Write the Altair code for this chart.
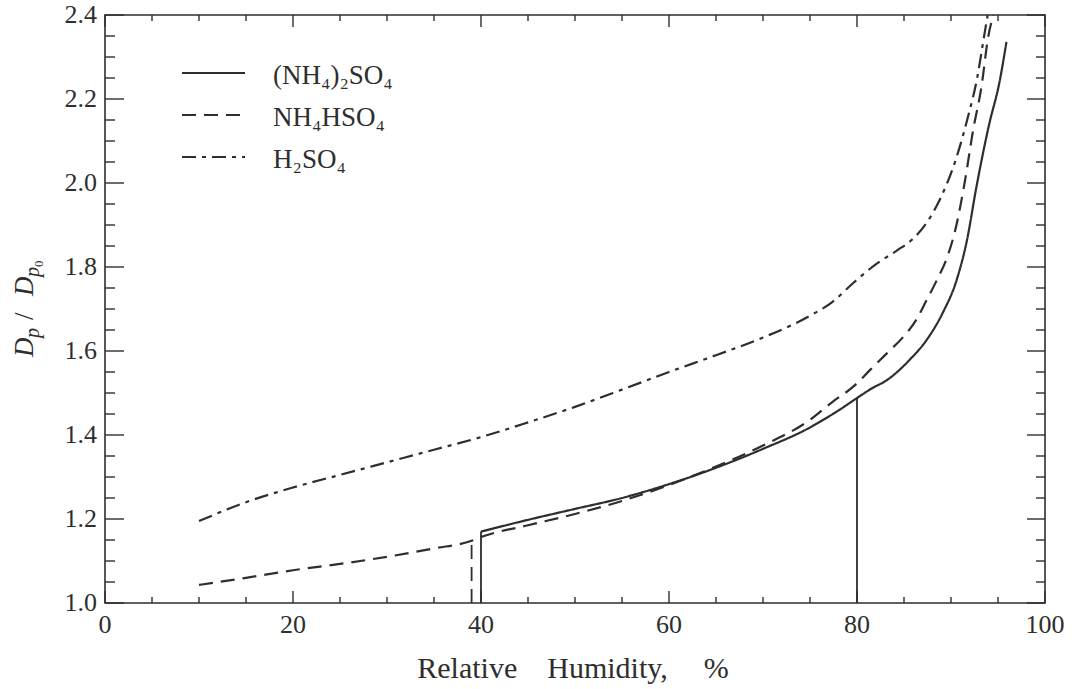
import altair as alt
import pandas as pd

# ---------------- data ----------------
AS_NAME = "(NH₄)₂SO₄"
AB_NAME = "NH₄HSO₄"
SA_NAME = "H₂SO₄"

AS_X = [40, 45, 50, 55, 60, 65, 70, 75, 76.1, 78, 80, 81.5, 83.2, 85.6, 87.4, 89.1, 90.6, 91.7, 92.7, 94.0, 95.2, 95.9]
AS_Y = [1.17, 1.198, 1.224, 1.25, 1.283, 1.322, 1.367, 1.418, 1.432, 1.458, 1.488, 1.51, 1.531, 1.579, 1.626, 1.69, 1.769, 1.864, 1.99, 2.134, 2.245, 2.336]

AB_X = [10, 15, 20, 25, 30, 35, 39, 40, 45, 50, 55, 60, 65, 70, 75, 77.4, 79.6, 81.4, 83.2, 84.9, 86.3, 87.4, 88.5, 89.6, 90.4, 91.5, 92.3, 93.3, 93.9, 94.5]
AB_Y = [1.043, 1.06, 1.078, 1.093, 1.11, 1.13, 1.148, 1.157, 1.185, 1.212, 1.243, 1.281, 1.325, 1.375, 1.436, 1.479, 1.515, 1.555, 1.595, 1.633, 1.674, 1.721, 1.769, 1.824, 1.883, 2.007, 2.119, 2.238, 2.34, 2.40]

SA_X = [10, 15, 20, 25, 30, 35, 40, 45, 50, 55, 60, 65, 70, 75, 77.4, 79.6, 82.1, 84.3, 85.9, 87.4, 88.8, 90.6, 91.8, 92.8, 93.4, 93.9]
SA_Y = [1.195, 1.24, 1.275, 1.305, 1.335, 1.365, 1.395, 1.43, 1.467, 1.508, 1.55, 1.59, 1.632, 1.684, 1.717, 1.762, 1.808, 1.84, 1.866, 1.905, 1.96, 2.062, 2.157, 2.252, 2.333, 2.40]

# vertical deliquescence / efflorescence drops
DROP_SERIES = [AS_NAME, AS_NAME, AB_NAME]
DROP_X = [40, 80, 39]
DROP_TOP = [1.17, 1.488, 1.148]
DROP_BOTTOM = [1.0, 1.0, 1.0]

X_MAJOR = [0, 20, 40, 60, 80, 100]
X_MINOR = [v for v in range(0, 101, 5) if v % 20 != 0]
Y_MAJOR = [1.0, 1.2, 1.4, 1.6, 1.8, 2.0, 2.2, 2.4]
Y_MINOR = [round(1.0 + 0.05 * i, 2) for i in range(29) if i % 4 != 0]

SERIES = [AS_NAME, AB_NAME, SA_NAME]
X_TITLE = "Relative\u2003Humidity,\u2003\u2009%"

# ---------------- styling ----------------
W, H = 940, 588
INK = "#2e2e2e"
FONT = "Liberation Serif"
DASHES = [[1, 0], [14, 8], [14, 6, 4, 6]]

xs = alt.Scale(domain=[0, 100], nice=False, zero=False)
ys = alt.Scale(domain=[1.0, 2.4], nice=False, zero=False)
dash_scale = alt.Scale(domain=SERIES, range=DASHES)

rows = []
for name, xv, yv in [(AS_NAME, AS_X, AS_Y), (AB_NAME, AB_X, AB_Y), (SA_NAME, SA_X, SA_Y)]:
    for i, (a, b) in enumerate(zip(xv, yv)):
        rows.append({"series": name, "rh": a, "ratio": b, "i": i})
curves_df = pd.DataFrame(rows)

drops_df = pd.DataFrame({"series": DROP_SERIES, "rh": DROP_X, "top": DROP_TOP, "bottom": DROP_BOTTOM})

curves = alt.Chart(curves_df).mark_line(color=INK, strokeWidth=2.2, interpolate="monotone").encode(
    x=alt.X("rh:Q", scale=xs, axis=None),
    y=alt.Y("ratio:Q", scale=ys, axis=None),
    strokeDash=alt.StrokeDash("series:N", scale=dash_scale, legend=None),
    detail="series:N",
    order="i:Q",
)

drops = alt.Chart(drops_df).mark_rule(color=INK, strokeWidth=1.8).encode(
    x=alt.X("rh:Q", scale=xs, axis=None),
    y=alt.Y("bottom:Q", scale=ys, axis=None),
    y2="top:Q",
    strokeDash=alt.StrokeDash("series:N", scale=dash_scale, legend=None),
)


def x_ticks(vals, length, top):
    df = pd.DataFrame({"v": vals})
    if top:
        yy, yy2 = alt.value(0), alt.value(length)
    else:
        yy, yy2 = alt.value(H), alt.value(H - length)
    return alt.Chart(df).mark_rule(color=INK, strokeWidth=1.4).encode(
        x=alt.X("v:Q", scale=xs, axis=None), y=yy, y2=yy2)


def y_ticks(vals, length, right):
    df = pd.DataFrame({"v": vals})
    if right:
        xx, xx2 = alt.value(W), alt.value(W - length)
    else:
        xx, xx2 = alt.value(0), alt.value(length)
    return alt.Chart(df).mark_rule(color=INK, strokeWidth=1.4).encode(
        y=alt.Y("v:Q", scale=ys, axis=None), x=xx, x2=xx2)


ticks = [
    x_ticks(X_MAJOR, 12, False), x_ticks(X_MINOR, 6, False),
    x_ticks(X_MAJOR, 12, True), x_ticks(X_MINOR, 6, True),
    y_ticks(Y_MAJOR, 19, False), y_ticks(Y_MINOR, 10, False),
    y_ticks(Y_MAJOR, 18, True), y_ticks(Y_MINOR, 9, True),
]

# tick labels, placed through the scales
x_labels = alt.Chart(pd.DataFrame({"v": X_MAJOR})).transform_calculate(
    t="format(datum.v, 'd')"
).mark_text(font=FONT, fontSize=26, color=INK, align="center", baseline="top").encode(
    x=alt.X("v:Q", scale=xs, axis=None), y=alt.value(H + 9), text="t:N")

y_labels = alt.Chart(pd.DataFrame({"v": Y_MAJOR})).transform_calculate(
    t="format(datum.v, '.1f')"
).mark_text(font=FONT, fontSize=26, color=INK, align="right", baseline="middle").encode(
    y=alt.Y("v:Q", scale=ys, axis=None), x=alt.value(-8), text="t:N")

one = pd.DataFrame({"k": [0]})


def label(txt, x, y, size, angle=0, style="normal", align="left", baseline="alphabetic"):
    kw = dict(font=FONT, fontSize=size, color=INK, align=align, baseline=baseline, fontStyle=style)
    if angle:
        kw["angle"] = angle
    return alt.Chart(one).mark_text(**kw).encode(
        x=alt.value(x), y=alt.value(y), text=alt.value(txt))


x_title = label(X_TITLE, W / 2 - 2, 663, 30, align="center")

# y title: D_p / D_{p_0}, rotated, built from pieces so the subscripts sit low
y_title = [
    label("D", -72, 342, 27, angle=270, style="italic"),
    label("p", -66, 323, 20, angle=270, style="italic"),
    label("/", -72, 305, 27, angle=270),
    label("D", -72, 281, 27, angle=270, style="italic"),
    label("p", -66, 262, 20, angle=270, style="italic"),
    label("0", -62, 252, 13, angle=270),
]

legend_layers = []
for i, (name, dash) in enumerate(zip(SERIES, DASHES)):
    yy = 58 + 42 * i
    legend_layers.append(
        alt.Chart(one).mark_rule(color=INK, strokeWidth=2.2, strokeDash=dash).encode(
            x=alt.value(77), x2=alt.value(140), y=alt.value(yy))
    )
    legend_layers.append(label(name, 168, yy + 3, 27, baseline="middle"))

chart = alt.layer(curves, drops, *ticks, x_labels, y_labels, x_title, *y_title, *legend_layers).properties(
    width=W, height=H,
    autosize=alt.AutoSizeParams(type="none"),
    padding={"left": 105, "top": 15, "right": 30, "bottom": 86},
    background="white",
).configure_view(
    stroke=INK, strokeWidth=1.6
)

chart.save("out.html", embed_options={"renderer": "svg", "actions": False})
